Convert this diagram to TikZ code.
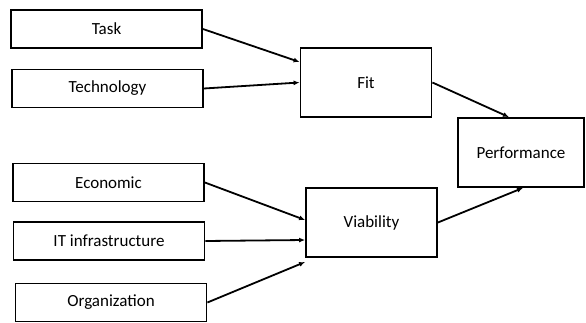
\documentclass[tikz,border=0pt]{standalone}
\usepackage{fontspec}
\setmainfont{Carlito}
\usetikzlibrary{positioning}
\usetikzlibrary{arrows.meta}
\tikzset{
	factor/.style={draw, line width=1.8pt, minimum width=191pt, minimum height=38pt, inner sep=2pt},
	construct/.style={draw, line width=1.8pt, minimum width=131pt, minimum height=69pt, inner sep=2pt},
	>={Latex[length=6pt,width=5pt]}
}

\begin{document}
\begin{tikzpicture}[x=1pt, y=-1pt, font=\fontsize{17}{20}\selectfont, line width=1.8pt]
		\useasboundingbox (0,0) rectangle (586,323);
		
		\node[factor] (task) at (106.5, 29) {Task};
		\node[factor] (tech) at (107.5, 88.5) {Technology};
		
		\node[factor] (econ) at (108.5, 182.5) {Economic};
		\node[factor] (infra) at (109, 241) {IT infrastructure};
		\node[factor] (org) at (111, 302.5) {Organization};
		
		\node[construct] (fit) at (366, 82.5) {Fit};
		\node[construct] (viab) at (371.5, 222.5) {Viability};
		
		\node[construct, minimum width=126pt] (perf) at (521, 152.5) {Performance};
		
		\draw[->] (task.east) to ([yshift=20.5pt]fit.west);
		\draw[->] (tech.east) to (fit.west);
		\draw[->] (econ.east) to ([yshift=2.5pt]viab.west);
		\draw[->] (infra.east) to ([yshift=-17.5pt]viab.west);
		\draw[->] (org.east) to ([yshift=-39.5pt]viab.west);
		\draw[->] (fit.east) to ([xshift=-12pt]perf.north);
		\draw[->] (viab.east) to ([xshift=2pt]perf.south);
	\end{tikzpicture}
\end{document}
